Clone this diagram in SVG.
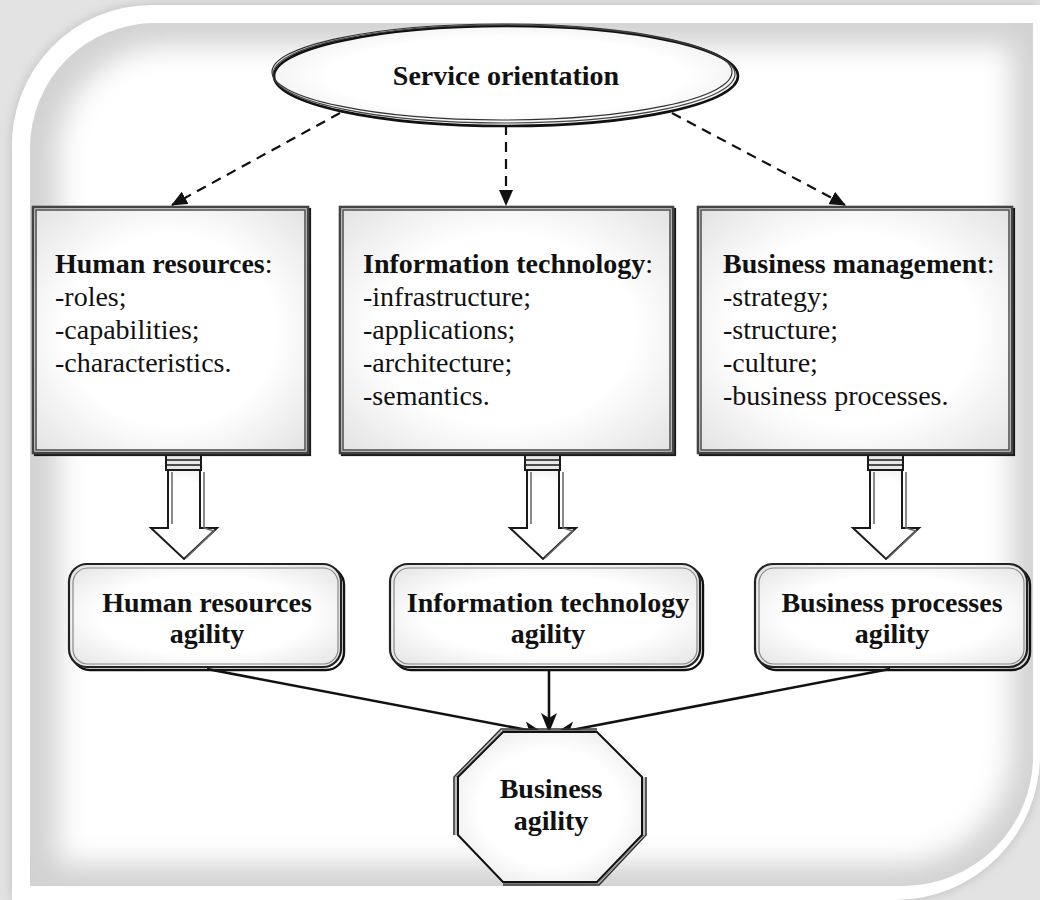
<svg xmlns="http://www.w3.org/2000/svg" width="1040" height="900" viewBox="0 0 1040 900">
<defs>
  <style>
    .t { font-family: "Liberation Serif", "Times New Roman", serif; font-size: 28px; fill: #111; }
    .b { font-weight: bold; }
    .c { text-anchor: middle; }
    .frame { fill: none; stroke: #1a1a1a; stroke-width: 2.2; }
    .frame2 { fill: none; stroke: #555; stroke-width: 1.6; }
    .dash { fill: none; stroke: #111; stroke-width: 2.2; stroke-dasharray: 10 7; }
    .solid { fill: none; stroke: #111; stroke-width: 2.6; }
    .barrow { fill: url(#boxg); stroke: #1a1a1a; stroke-width: 2; stroke-linejoin: miter; }
  </style>
  <radialGradient id="boxg" cx="0.5" cy="0.5" r="0.7">
    <stop offset="0.55" stop-color="#ffffff"/>
    <stop offset="1" stop-color="#e2e2e2"/>
  </radialGradient>
  <clipPath id="panelClip">
    <path d="M 30 148 A 125 125 0 0 1 155 23 L 1033 23 L 1033 756 A 130 130 0 0 1 903 886 L 30 886 Z"/>
  </clipPath>
  <filter id="blur" x="-10%" y="-10%" width="120%" height="120%">
    <feGaussianBlur stdDeviation="14"/>
  </filter>
  <filter id="shadow" x="-5%" y="-5%" width="110%" height="110%">
    <feGaussianBlur stdDeviation="6"/>
  </filter>
  <marker id="dashHead" markerUnits="userSpaceOnUse" markerWidth="16" markerHeight="14" refX="15" refY="7" orient="auto">
    <path d="M 0 0 L 16 7 L 0 14 Z" fill="#111"/>
  </marker>
  <marker id="solidHead" markerUnits="userSpaceOnUse" markerWidth="20" markerHeight="16" refX="19" refY="8" orient="auto">
    <path d="M 0 0 L 20 8 L 0 16 L 5 8 Z" fill="#111"/>
  </marker>
</defs>

<!-- background frame -->
<rect x="0" y="0" width="1040" height="900" fill="#e3e3e3"/>
<path d="M 12 150 A 140 140 0 0 1 152 5 L 1040 5 L 1040 755 A 145 145 0 0 1 895 900 L 12 900 Z" fill="#bdbdbd" filter="url(#shadow)"/>
<path d="M 12 150 A 140 140 0 0 1 152 5 L 1040 5 L 1040 755 A 145 145 0 0 1 895 900 L 12 900 Z" fill="#ffffff"/>
<g clip-path="url(#panelClip)">
  <rect x="0" y="0" width="1040" height="900" fill="#d2d2d2"/>
  <path d="M 58 162 A 110 110 0 0 1 168 45 L 1012 45 L 1012 748 A 115 115 0 0 1 897 864 L 58 864 Z" fill="#ffffff" filter="url(#blur)"/>
</g>

<!-- connectors -->
<g id="connectors">
  <line class="dash" x1="340" y1="113" x2="172" y2="205" marker-end="url(#dashHead)"/>
  <line class="dash" x1="506" y1="125" x2="506" y2="205" marker-end="url(#dashHead)"/>
  <line class="dash" x1="672" y1="113" x2="845" y2="205" marker-end="url(#dashHead)"/>

  <g id="barrow-left">
    <rect x="166" y="455" width="35" height="15" fill="#e8e8e8" stroke="#1a1a1a" stroke-width="2"/>
    <line x1="166" y1="460" x2="201" y2="460" stroke="#1a1a1a" stroke-width="1.5"/>
    <line x1="166" y1="465" x2="201" y2="465" stroke="#1a1a1a" stroke-width="1.5"/>
    <path class="barrow" d="M 168 470 L 168 528 L 151 528 L 184 559 L 217 528 L 200 528 L 200 470 Z"/>
    <path d="M 172 472 L 172 524 M 204 472 L 204 528 L 214 531 L 186 558" fill="none" stroke="#666" stroke-width="1.5"/>
  </g>
  <g id="barrow-mid">
    <rect x="525" y="455" width="35" height="15" fill="#e8e8e8" stroke="#1a1a1a" stroke-width="2"/>
    <line x1="525" y1="460" x2="560" y2="460" stroke="#1a1a1a" stroke-width="1.5"/>
    <line x1="525" y1="465" x2="560" y2="465" stroke="#1a1a1a" stroke-width="1.5"/>
    <path class="barrow" d="M 527 470 L 527 528 L 510 528 L 543 559 L 576 528 L 559 528 L 559 470 Z"/>
    <path d="M 531 472 L 531 524 M 563 472 L 563 528 L 573 531 L 545 558" fill="none" stroke="#666" stroke-width="1.5"/>
  </g>
  <g id="barrow-right">
    <rect x="868" y="455" width="35" height="15" fill="#e8e8e8" stroke="#1a1a1a" stroke-width="2"/>
    <line x1="868" y1="460" x2="903" y2="460" stroke="#1a1a1a" stroke-width="1.5"/>
    <line x1="868" y1="465" x2="903" y2="465" stroke="#1a1a1a" stroke-width="1.5"/>
    <path class="barrow" d="M 870 470 L 870 528 L 853 528 L 886 559 L 919 528 L 902 528 L 902 470 Z"/>
    <path d="M 874 472 L 874 524 M 906 472 L 906 528 L 916 531 L 888 558" fill="none" stroke="#666" stroke-width="1.5"/>
  </g>

  <line class="solid" x1="207" y1="669" x2="543" y2="733" marker-end="url(#solidHead)"/>
  <line class="solid" x1="549" y1="669" x2="549" y2="732" marker-end="url(#solidHead)"/>
  <line class="solid" x1="890" y1="669" x2="556" y2="733" marker-end="url(#solidHead)"/>
</g>

<!-- Service orientation -->
<g id="service-orientation">
  <ellipse cx="506" cy="76" rx="232" ry="50" fill="url(#boxg)" stroke="#111" stroke-width="2.6"/>
  <ellipse cx="504" cy="74" rx="231" ry="49" fill="none" stroke="#444" stroke-width="1.2"/>
  <ellipse cx="502" cy="72" rx="230" ry="48" fill="none" stroke="#333" stroke-width="1.2"/>
  <text class="t b c" x="506" y="85" font-size="27">Service orientation</text>
</g>

<!-- Three boxes -->
<g id="human-resources">
  <rect x="35" y="209" width="275" height="246" class="frame" stroke="#111"/>
  <rect x="33" y="207" width="275" height="246" fill="url(#boxg)" stroke="#444" stroke-width="2.6"/>
  <rect x="36" y="210" width="269" height="240" class="frame2" stroke="#999"/>
  <text class="t" x="55" y="273"><tspan class="b">Human resources</tspan>:</text>
  <text class="t" x="55" y="306">-roles;</text>
  <text class="t" x="55" y="339">-capabilities;</text>
  <text class="t" x="55" y="372">-characteristics.</text>
</g>

<g id="information-technology">
  <rect x="342" y="209" width="333" height="246" class="frame" stroke="#111"/>
  <rect x="340" y="207" width="333" height="246" fill="url(#boxg)" stroke="#444" stroke-width="2.6"/>
  <rect x="343" y="210" width="327" height="240" class="frame2" stroke="#999"/>
  <text class="t" x="363" y="273"><tspan class="b">Information technology</tspan>:</text>
  <text class="t" x="363" y="306">-infrastructure;</text>
  <text class="t" x="363" y="339">-applications;</text>
  <text class="t" x="363" y="372">-architecture;</text>
  <text class="t" x="363" y="405">-semantics.</text>
</g>

<g id="business-management">
  <rect x="700" y="209" width="314" height="246" class="frame" stroke="#111"/>
  <rect x="698" y="207" width="314" height="246" fill="url(#boxg)" stroke="#444" stroke-width="2.6"/>
  <rect x="701" y="210" width="308" height="240" class="frame2" stroke="#999"/>
  <text class="t" x="723" y="273"><tspan class="b">Business management</tspan>:</text>
  <text class="t" x="723" y="306">-strategy;</text>
  <text class="t" x="723" y="339">-structure;</text>
  <text class="t" x="723" y="372">-culture;</text>
  <text class="t" x="723" y="405">-business processes.</text>
</g>

<!-- Agility boxes -->
<g id="hr-agility">
  <rect x="72" y="567" width="272" height="103" rx="18" fill="none" stroke="#111" stroke-width="2.4"/>
  <rect x="69" y="564" width="272" height="103" rx="18" fill="url(#boxg)" stroke="#222" stroke-width="2.2"/>
  <rect x="73" y="568" width="265" height="96" rx="15" fill="none" stroke="#888" stroke-width="1.2"/>
  <text class="t b c" x="207" y="612">Human resources</text>
  <text class="t b c" x="207" y="643">agility</text>
</g>

<g id="it-agility">
  <rect x="393" y="567" width="310" height="103" rx="18" fill="none" stroke="#111" stroke-width="2.4"/>
  <rect x="390" y="564" width="310" height="103" rx="18" fill="url(#boxg)" stroke="#222" stroke-width="2.2"/>
  <rect x="394" y="568" width="303" height="96" rx="15" fill="none" stroke="#888" stroke-width="1.2"/>
  <text class="t b c" x="548" y="612">Information technology</text>
  <text class="t b c" x="548" y="643">agility</text>
</g>

<g id="bp-agility">
  <rect x="758" y="567" width="272" height="103" rx="18" fill="none" stroke="#111" stroke-width="2.4"/>
  <rect x="755" y="564" width="272" height="103" rx="18" fill="url(#boxg)" stroke="#222" stroke-width="2.2"/>
  <rect x="759" y="568" width="265" height="96" rx="15" fill="none" stroke="#888" stroke-width="1.2"/>
  <text class="t b c" x="892" y="612">Business processes</text>
  <text class="t b c" x="892" y="643">agility</text>
</g>

<!-- Business agility octagon -->
<g id="business-agility">
  <polygon points="503,732 597,732 642,777 642,835 597,882 503,882 458,835 458,777" fill="url(#boxg)" stroke="#111" stroke-width="2"/>
  <polyline points="454,835 454,777 501,729 597,729" fill="none" stroke="#333" stroke-width="1.6"/>
  <polyline points="456,835 456,777 502,730.5 597,730.5" fill="none" stroke="#777" stroke-width="1"/>
  <polyline points="646,777 646,835 599,885 503,885" fill="none" stroke="#333" stroke-width="1.6"/>
  <polyline points="644,777 644,835 598,883.5 503,883.5" fill="none" stroke="#777" stroke-width="1"/>
  <text class="t b c" x="551" y="798">Business</text>
  <text class="t b c" x="551" y="830">agility</text>
</g>
</svg>
